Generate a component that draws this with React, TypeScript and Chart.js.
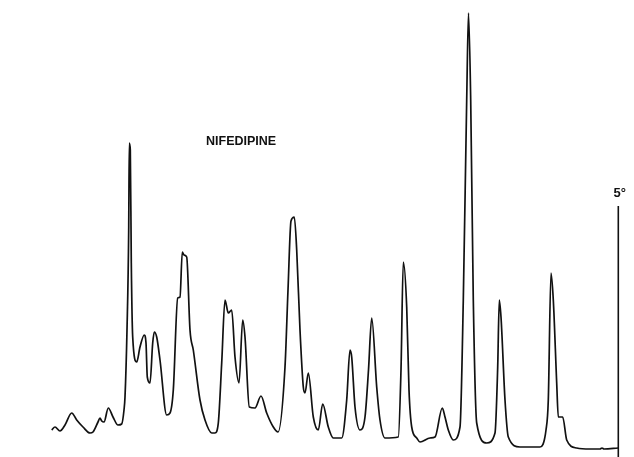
import React, { useEffect, useRef } from "react";
import { Chart, registerables } from "chart.js";

Chart.register(...registerables);

// Diffraction trace: position (arbitrary 2θ units, left→right) and intensity (arbitrary counts)
const tracePos = [
  51.7, 55, 60, 65, 71.7, 76.7, 83, 90, 93, 98, 100, 101.7, 104, 108.3, 113, 118, 121.7, 124, 125, 127,
  128.7, 129.3, 130.3, 131.3, 132.7, 136.7, 140, 144.3, 146, 147.3, 150, 152.7, 154.3, 156.7, 160, 166.7,
  170, 173.3, 177.7, 180, 182.3, 184, 186.7, 190, 193.3, 200, 205, 211.7, 215, 218.3, 221.7, 225, 228.3,
  231.7, 235, 239, 242.7, 245, 249.3, 255, 261, 266.7, 273.3, 278, 285, 288, 291, 294.3, 296.7, 300,
  303.3, 305, 308.3, 313.3, 318.3, 322.7, 328.3, 333.3, 341.7, 346.7, 350, 351.7, 355, 360, 365, 368.5,
  371.7, 376.7, 380, 385, 398.3, 401, 403.3, 406.7, 409, 411.7, 416.7, 420, 430, 435, 442.3, 445, 448.3,
  453.3, 460, 463.3, 466.7, 468.5, 470.7, 473.3, 476.7, 486.7, 495, 497.7, 499.3, 501, 505, 508.3, 520,
  540, 546, 548.3, 551, 553.3, 556.7, 558.3, 562.7, 566.7, 576.7, 590, 600, 602, 604, 618,
];
const traceLevel = [
  430, 427, 431, 425, 413, 420, 427, 433, 432, 422, 418, 421, 422, 408, 417, 425, 424, 410, 397, 330,
  230, 143, 150, 263, 337, 362, 347, 335, 343, 377, 383, 343, 332, 337, 360, 415,
  413, 390, 298, 297, 252, 255, 257, 330, 350, 400, 420, 433, 433, 423, 363, 300, 313,
  310, 357, 383, 320, 337, 407, 408, 396, 413, 427, 432, 367, 290, 221, 217, 250, 330,
  387, 393, 373, 417, 430, 404, 427, 438, 438, 400, 350, 357, 407, 430, 417, 370,
  318, 387, 420, 438, 437, 370, 262, 307, 390, 427, 438, 442, 438, 437, 408, 417, 430,
  440, 427, 300, 100, 13, 100, 300, 423, 443, 433, 367, 300, 317, 400, 437, 447,
  447, 430, 400, 273, 300, 383, 417, 417, 440, 448, 449, 449, 448, 449, 448,
].map((v) => 457 - v); // intensity above the frame bottom

// Intensity scale bar ("5°") position and extent
const barPos = [618.3, 618.3];
const barLevel = [0, 251];

const titleText = "NIFEDIPINE";
const barLabel = "5°";

const W = 634;
const H = 457;

export default function App() {
  const ref = useRef<HTMLCanvasElement | null>(null);

  useEffect(() => {
    if (!ref.current) return;
    const labelPlugin = {
      id: "labels",
      afterDraw(chart: any) {
        const { ctx, scales } = chart;
        const xs = scales.x;
        const ys = scales.y;
        ctx.save();
        ctx.fillStyle = "#111";
        ctx.textBaseline = "middle";
        ctx.textAlign = "left";
        ctx.font = "bold 12.5px 'Liberation Sans', Arial, sans-serif";
        ctx.fillText(titleText, xs.getPixelForValue(206), ys.getPixelForValue(457 - 142));
        ctx.textAlign = "center";
        ctx.font = "bold 13px 'Liberation Sans', Arial, sans-serif";
        ctx.fillText(barLabel, xs.getPixelForValue(barPos[1] + 1.5), ys.getPixelForValue(barLevel[1] + 13));
        ctx.restore();
      },
    };

    const chart = new Chart(ref.current, {
      type: "line",
      data: {
        datasets: [
          {
            data: tracePos.map((x, i) => ({ x, y: traceLevel[i] })),
            borderColor: "#111",
            borderWidth: 1.7,
            pointRadius: 0,
            cubicInterpolationMode: "monotone",
            fill: false,
          },
          {
            data: barPos.map((x, i) => ({ x, y: barLevel[i] })),
            borderColor: "#111",
            borderWidth: 1.6,
            pointRadius: 0,
            tension: 0,
            fill: false,
          },
        ],
      },
      options: {
        responsive: false,
        animation: false,
        layout: { padding: 0 },
        plugins: { legend: { display: false }, tooltip: { enabled: false }, title: { display: false } },
        scales: {
          x: { type: "linear", min: 0, max: W, display: false },
          y: { type: "linear", min: 0, max: H, display: false },
        },
      },
      plugins: [labelPlugin],
    } as any);
    return () => chart.destroy();
  }, []);

  return (
    <div style={{ position: "absolute", left: 0, top: 0, width: W, height: H, background: "#fff" }}>
      <canvas ref={ref} width={W} height={H} style={{ display: "block" }} />
    </div>
  );
}
